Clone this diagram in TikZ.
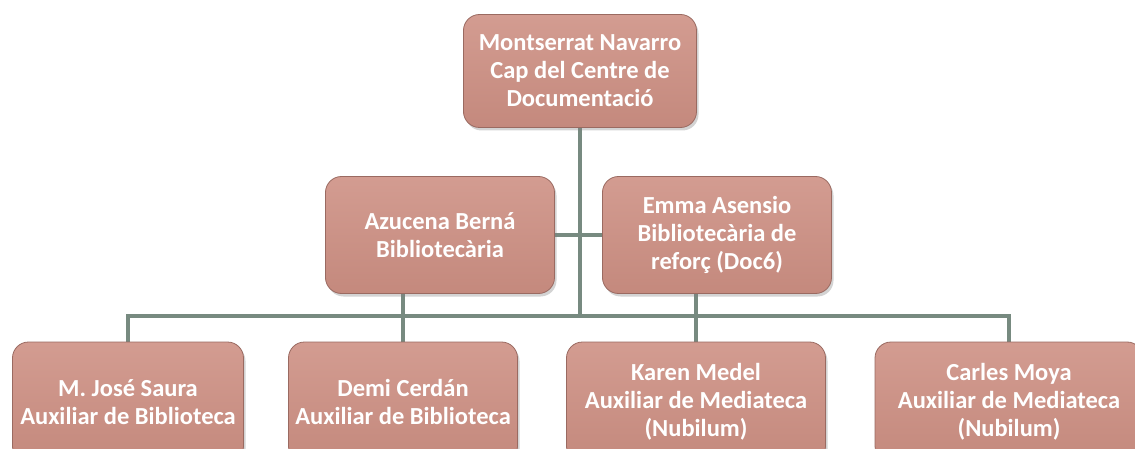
\documentclass[tikz,border=0pt]{standalone}
\usepackage{fontspec}
\setmainfont{Carlito}
\usepackage{xcolor}
\usetikzlibrary{shadows,backgrounds}

\definecolor{boxtop}{HTML}{D39C91}
\definecolor{boxbottom}{HTML}{C4897D}
\definecolor{boxline}{HTML}{9A6A61}
\definecolor{linkgray}{HTML}{778A80}

\tikzset{
    person/.style={draw=boxline, line width=0.8pt, rounded corners=16pt,
        top color=boxtop, bottom color=boxbottom,
        drop shadow={shadow xshift=2pt, shadow yshift=-3pt, opacity=0.35, fill=gray},
        text=white, align=center, inner sep=0pt,
        font=\fontsize{24.5}{28}\selectfont\bfseries},
    link/.style={draw=linkgray, line width=4.5pt}
}

\begin{document}
\begin{tikzpicture}[x=1pt, y=-1pt]
                \useasboundingbox (0,0) rectangle (1135,449);
                % head
                \node[person, minimum width=233pt, minimum height=113pt] (head) at (580,71) {Montserrat Navarro\\Cap del Centre de\\Documentaci\'o};
                % second row
                \node[person, minimum width=229pt, minimum height=117pt] (azucena) at (440,235) {Azucena Bern\'a\\Bibliotec\`aria};
                \node[person, minimum width=229pt, minimum height=117pt] (emma) at (717,235) {Emma Asensio\\Bibliotec\`aria de\\refor\c{c} (Doc6)};
                % third row
                \node[person, minimum width=231pt, minimum height=120pt] (mjose) at (128,402) {M. Jos\'e Saura\\Auxiliar de Biblioteca};
                \node[person, minimum width=229pt, minimum height=120pt] (demi) at (403,402) {Demi Cerd\'an\\Auxiliar de Biblioteca};
                \node[person, minimum width=259pt, minimum height=120pt] (karen) at (696,402) {Karen Medel\\Auxiliar de Mediateca\\(Nubilum)};
                \node[person, minimum width=268pt, minimum height=120pt] (carles) at (1009,402) {Carles Moya\\Auxiliar de Mediateca\\(Nubilum)};
                \coordinate (bus) at (580,316);
                \begin{scope}[on background layer]
                    \draw[link] (head.south) -- (bus);
                    \draw[link] (azucena.east) -- (emma.west);
                    \draw[link] (mjose.north) |- (bus) -| (carles.north);
                    \draw[link] (azucena.south -| demi.north) -- (demi.north);
                    \draw[link] (emma.south -| karen.north) -- (karen.north);
                \end{scope}
            \end{tikzpicture}
\end{document}
